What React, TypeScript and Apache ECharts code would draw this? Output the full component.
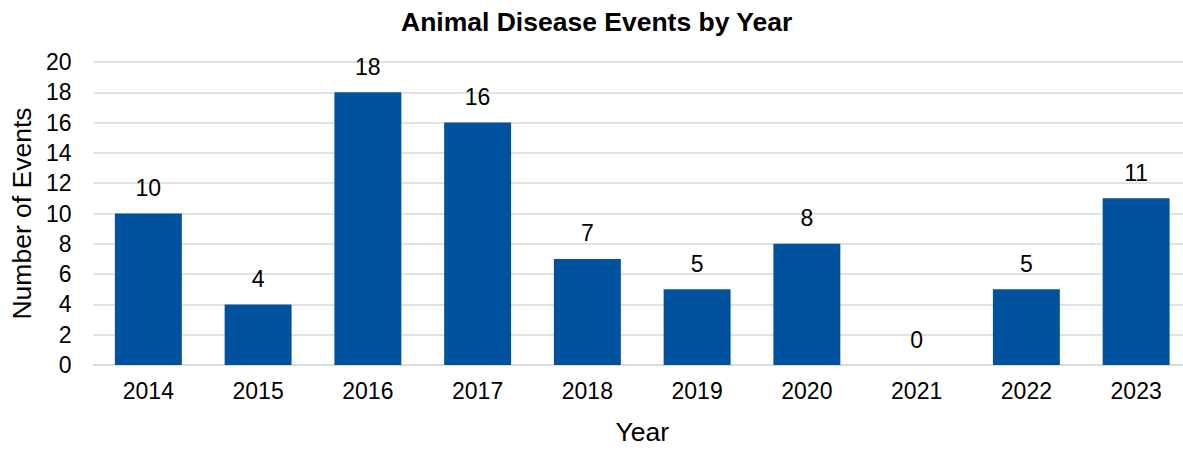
import React, { useEffect, useRef } from "react";
import * as echarts from "echarts";

const years = ["2014", "2015", "2016", "2017", "2018", "2019", "2020", "2021", "2022", "2023"];
const events = [10, 4, 18, 16, 7, 5, 8, 0, 5, 11];
const yTicks = { min: 0, max: 20, interval: 2 };

export default function App() {
  const ref = useRef<HTMLDivElement>(null);
  useEffect(() => {
    const chart = echarts.init(ref.current!, null, { renderer: "svg" });
    const font = "Liberation Sans, Arial, sans-serif";
    chart.setOption({
      animation: false,
      title: {
        text: "Animal Disease Events by Year",
        left: 396,
        top: 3,
        textStyle: { fontFamily: font, fontSize: 26.5, fontWeight: "bold", color: "#000" },
      },
      grid: { left: 92, right: 0, top: 62, bottom: 77 },
      xAxis: {
        type: "category",
        data: years,
        name: "Year",
        nameLocation: "middle",
        nameGap: 53,
        nameTextStyle: { fontFamily: font, fontSize: 26.5, color: "#000" },
        axisLine: { lineStyle: { color: "#D9D9D9", width: 1.5 } },
        axisTick: { show: false },
        axisLabel: { fontFamily: font, fontSize: 23, color: "#000", margin: 14 },
      },
      yAxis: {
        type: "value",
        min: yTicks.min,
        max: yTicks.max,
        interval: yTicks.interval,
        name: "Number of Events",
        nameLocation: "middle",
        nameGap: 57,
        nameTextStyle: { fontFamily: font, fontSize: 26.5, color: "#000" },
        axisLine: { show: false },
        axisTick: { show: false },
        axisLabel: { fontFamily: font, fontSize: 23, color: "#000", margin: 22 },
        splitLine: { lineStyle: { color: "#D9D9D9", width: 1.5 } },
      },
      series: [
        {
          type: "bar",
          data: events,
          barWidth: "61%",
          itemStyle: { color: "#00529F" },
          label: {
            show: true,
            position: "top",
            distance: 14,
            fontFamily: font,
            fontSize: 23,
            color: "#000",
          },
        },
      ],
    });
    return () => chart.dispose();
  }, []);
  return (
    <div
      style={{
        position: "fixed",
        left: 0,
        top: 0,
        width: 1183,
        height: 450,
        overflow: "hidden",
        background: "#fff",
      }}
    >
      <div ref={ref} style={{ width: 1191, height: 450 }} />
    </div>
  );
}
